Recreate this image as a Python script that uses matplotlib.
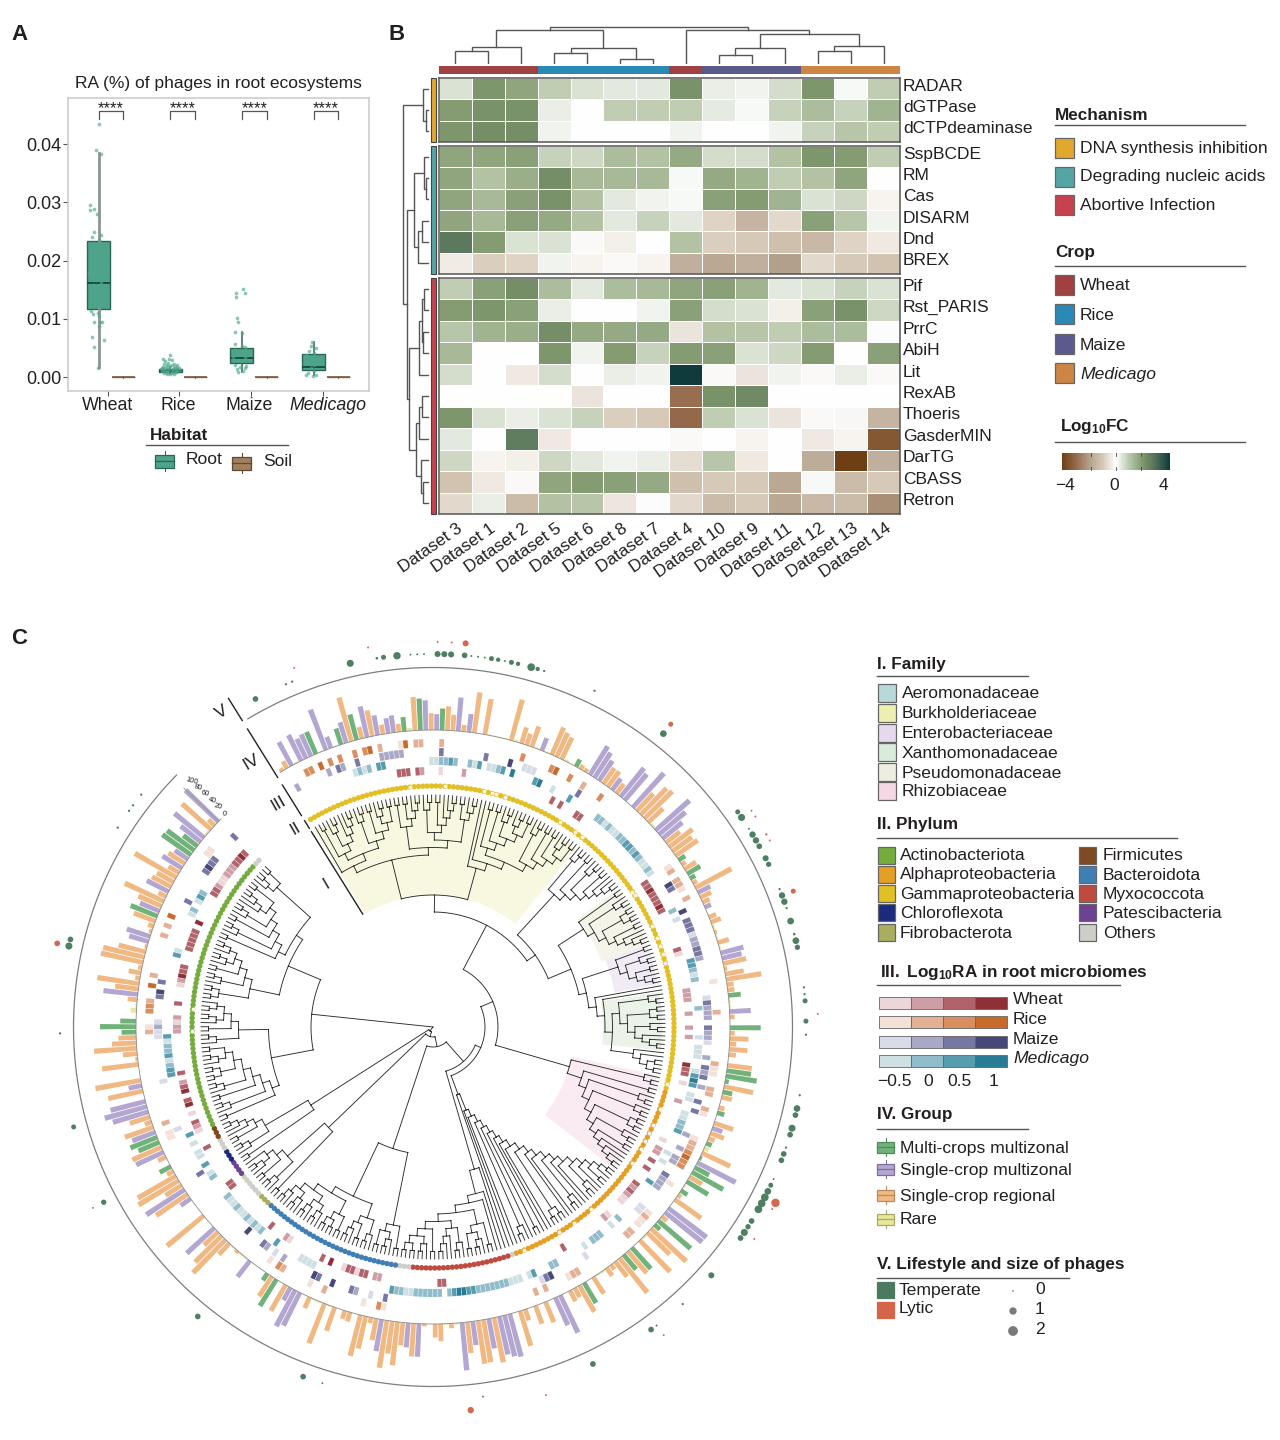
import numpy as np
import matplotlib
matplotlib.use("Agg")
import matplotlib.pyplot as plt
from matplotlib.colors import LinearSegmentedColormap
from matplotlib.patches import Rectangle

plt.rcParams['font.family'] = ['Liberation Sans', 'DejaVu Sans']
plt.rcParams['mathtext.fontset'] = 'custom'
plt.rcParams['mathtext.rm'] = 'Liberation Sans'
plt.rcParams['mathtext.bf'] = 'Liberation Sans:bold'
plt.rcParams['mathtext.it'] = 'Liberation Sans:italic'

W, H = 1280, 1440
INK = '#231f20'

# ---- panel A data
crops = ['Wheat', 'Rice', 'Maize', 'Medicago']
root_q1 = [0.0117, 0.0009, 0.0024, 0.0012]
root_med = [0.0162, 0.0011, 0.0033, 0.0018]
root_q3 = [0.0233, 0.0013, 0.0050, 0.0040]
root_lo = [0.0017, 0.0005, 0.0008, 0.0003]
root_hi = [0.0385, 0.0018, 0.0077, 0.0060]
soil_med = [0.0, 0.0, 0.0, 0.0]

wheat_y = [.0434, .0389, .0383, .0295, .0287, .0288, .0280, .0249, .0244, .0241, .0235, .0227, .0213,
           .0204, .0190, .0187, .0193, .0178, .0173, .0167, .0158, .0161, .0150, .0138, .0135, .0125,
           .0113, .0109, .0110, .0104, .0094, .0094, .0095, .0088, .0069, .0051, .0064, .0016]
wheat_jit = [.01, -.04, .04, -.12, -.12, -.06, -.02, -.06, .04, -.09, 0, -.01, .06, .03, -.1, -.08, .06,
             -.13, -.01, -.03, -.08, .04, .01, -.01, .04, .04, -.1, -.08, -.01, .01, -.06, .02, .05,
             .01, -.09, -.06, .08, -.01]
rice_y = [.0038, .0031, .0031, .0027, .0030, .0024, .0023, .0022, .0021, .0020, .0020, .0019, .0018, .0018,
          .0017, .0017, .0016, .0016, .0015, .0015, .0014, .0014, .0013, .0013, .0012, .0012, .0011, .0011,
          .0010, .0010, .0009, .0009, .0008, .0008, .0007, .0007, .0006, .0006, .0005]
rice_jit = [0, -.1, -.02, -.07, .02, -.03, .06, -.08, .03, -.05, .09, 0, -.1, .07, -.04, .1, -.12, .05, -.07,
            .12, -.02, .09, -.13, .04, -.09, .13, -.05, .08, -.11, .02, -.06, .1, -.03, .07, -.09, .03,
            -.05, .06, 0]
maize_y = [.0145, .0137, .0151, .0144, .0102, .0095, .0077, .0075, .0057, .0054, .0051, .0047, .0041, .0041,
           .0035, .0033, .0030, .0027, .0021, .0018, .0019, .0013, .0011, .0008, .0015]
maize_jit = [-.08, -.08, .01, .05, -.07, -.05, -.09, 0, -.09, 0, .04, -.1, -.03, .08, -.13, .04, -.06, -.01,
             -.1, -.02, .06, -.07, .01, -.06, .04]
medicago_y = [.0060, .0053, .0049, .0044, .0041, .0038, .0031, .0033, .0027, .0021, .0015, .0007, .0010,
              .0004, .0004, .0002]
medicago_jit = [-.02, -.04, .03, -.06, .01, -.1, -.04, .05, -.08, .01, -.04, -.08, .01, .03, -.1, -.01]

# ---- panel B data
datasets = ['Dataset 3', 'Dataset 1', 'Dataset 2', 'Dataset 5', 'Dataset 6', 'Dataset 8', 'Dataset 7',
            'Dataset 4', 'Dataset 10', 'Dataset 9', 'Dataset 11', 'Dataset 12', 'Dataset 13', 'Dataset 14']
dataset_crop = ['Wheat', 'Wheat', 'Wheat', 'Rice', 'Rice', 'Rice', 'Rice', 'Wheat', 'Maize', 'Maize',
                'Maize', 'Medicago', 'Medicago', 'Medicago']
synth_rows = ['RADAR', 'dGTPase', 'dCTPdeaminase']
synth_vals = [[.5, 2.0, 1.7, .9, .5, .4, .4, 2.1, .3, .2, .6, 2.0, .1, .9],
              [1.9, 2.1, 2.1, .3, 0, .9, .9, .9, .35, .1, .8, 1.2, .8, 1.4],
              [2.0, 2.2, 2.2, .2, 0, 0, 0, .2, 0, 0, .2, .8, 1.0, .9]]
degrade_rows = ['SspBCDE', 'RM', 'Cas', 'DISARM', 'Dnd', 'BREX']
degrade_vals = [[1.7, 1.7, 1.8, .8, .7, 1.2, 1.1, 1.6, .6, .6, 1.1, 2.0, 1.9, .9],
                [1.7, 1.1, 1.5, 2.2, 1.3, 1.3, 1.3, .1, 1.6, 1.4, .9, 1.1, 1.7, 0],
                [1.7, 1.3, 1.8, 2.1, 1.1, .4, .2, .1, 1.8, 1.9, 1.4, .5, .7, -.2],
                [1.7, 1.3, 1.8, 1.6, 1.1, .4, .8, .4, -.8, -1.5, -.7, 1.8, 1.0, .2],
                [2.7, 1.9, .5, .5, -.1, -.3, 0, 1.1, -.9, -1.0, -1.2, -1.4, -.8, -.4],
                [-.35, -.9, -.8, .2, -.2, -.1, -.2, -1.6, -1.8, -1.6, -2.0, -.7, -1, -1.1]]
abort_rows = ['Pif', 'Rst_PARIS', 'PrrC', 'AbiH', 'Lit', 'RexAB', 'Thoeris', 'GasderMIN', 'DarTG', 'CBASS', 'Retron']
abort_vals = [[.9, 1.8, 2.2, 1.2, .4, 1.2, 1.3, 1.7, 1.8, 1.4, .4, .5, .8, .5],
              [1.9, 2.0, 1.8, .3, 0, 0, .2, 1.8, .6, .5, -.3, 1.8, 2.1, .7],
              [1.0, 1.4, 1.5, 2.2, 1.6, 1.6, 1.6, -.5, 1.1, 1.0, .9, 1.2, 1.2, -.05],
              [1.3, 0, 0, 2.0, .2, 1.9, .8, 1.9, 1.8, .5, .7, 1.9, 0, 1.8],
              [.6, 0, -.4, .6, 0, .3, .2, 4, -.1, -.5, .2, -.1, .3, -.1],
              [0, 0, 0, 0, -.5, 0, 0, -2.9, 2.1, 2.3, 0, 0, 0, 0],
              [2.0, .5, .3, .5, .8, -.9, -1, -3, .9, .5, -.5, -.1, -.15, -1.5],
              [.4, 0, 2.6, -.4, 0, 0, 0, -.1, 0, -.2, 0, -.4, -.2, -3.4],
              [.7, -.2, -.3, .7, .4, .2, .3, -.6, 1, -.4, 0, -1.7, -4, -1.6],
              [-1.1, -.4, -.1, 1.7, 1.9, 1.8, 1.6, -1.2, -1, -1, -1.8, .1, -1.3, -1],
              [-.7, .3, -1.3, 1.1, 1, -.45, -.05, -.7, -1.3, -1, -1.8, -1.4, -1.3, -2.3]]
# (merge height, left, right); leaves are column or row numbers
col_tree = (36, (33, (15.7, (12.3, 0, 1), 2), (14.7, (9.7, 3, 4), (3.7, 5, 6))),
            (33, 7, (29, (14.7, (8, 8, 9), 10), (17, (12.3, 11, 12), 13))))
row_tree = (25.3, (4.7, 0, (2, 1, 2)),
            (20.7, (14, (4, 3, (2, 4, 5)), (9.7, (6.3, 6, 7), 8)),
             (18.7, (8.7, (6, (4, 9, 10), (5.3, 11, 12)), 13),
              (12, (9, (6.3, 14, 15), 16), (7.3, 17, (4.7, 18, 19))))))

mechanisms = ['DNA synthesis inhibition', 'Degrading nucleic acids', 'Abortive Infection']
mech_colors = ['#e0a92d', '#54a5a5', '#c7414f']
crop_colors = {'Wheat': '#a04040', 'Rice': '#2a8ab5', 'Maize': '#5b5a8c', 'Medicago': '#cc8544'}

# ---- panel C data: (tip, value) per bar group
green_bars = [(7, 50), (12, 35), (15, 55), (24, 30), (27, 66), (31, 45), (57, 17), (83, 16), (86, 31), (87, 12),
              (110, 26), (116, 64), (124, 51), (125, 65), (126, 8), (128, 20), (132, 15), (138, 12), (141, 5),
              (143, 34), (144, 74), (146, 52), (148, 16), (155, 89), (156, 15), (162, 59), (164, 40), (173, 49),
              (233, 65), (235, 17), (262, 26), (267, 47), (268, 60), (288, 30), (289, 75), (290, 33), (310, 60),
              (323, 73), (324, 70), (325, 37)]
purple_bars = [(2, 56), (4, 60), (5, 45), (6, 50), (9, 90), (10, 25), (13, 45), (17, 66), (19, 42), (21, 32), (22, 36),
               (28, 62), (30, 33), (34, 70), (36, 38), (50, 28), (60, 70), (61, 62), (62, 50), (65, 30), (67, 77),
               (68, 71), (70, 96), (76, 94), (77, 72), (78, 53), (90, 29), (93, 14), (102, 49), (103, 42), (113, 44),
               (135, 22), (142, 90), (152, 100), (153, 99), (178, 86), (179, 63), (188, 92), (189, 88), (190, 81),
               (192, 63), (195, 50), (197, 100), (205, 69), (207, 51), (212, 67), (228, 77), (229, 85), (230, 30),
               (239, 42), (248, 78), (255, 25), (257, 95), (265, 63), (269, 51), (273, 77), (274, 91), (275, 75),
               (278, 28), (295, 72), (305, 42), (306, 51), (311, 44), (315, 51), (320, 48), (322, 33), (326, 53),
               (327, 80), (331, 95)]
orange_bars = [(0, 7), (1, 17), (14, 95), (16, 25), (18, 55), (20, 20), (23, 17), (26, 70), (29, 35), (32, 50), (33, 33),
               (35, 14), (37, 85), (39, 75), (44, 88), (46, 35), (47, 25), (48, 45), (52, 62), (53, 55), (54, 50),
               (58, 10), (59, 8), (63, 40), (64, 40), (66, 25), (71, 50), (72, 77), (73, 81), (74, 42), (79, 37),
               (80, 61), (81, 50), (82, 56), (84, 10), (85, 28), (88, 10), (89, 85), (91, 25), (92, 16), (95, 16),
               (96, 22), (98, 5), (100, 24), (104, 49), (105, 6), (106, 39), (107, 74), (108, 14), (109, 14), (114, 10),
               (117, 10), (118, 39), (119, 14), (120, 38), (121, 15), (123, 51), (127, 62), (129, 22), (131, 12),
               (134, 42), (136, 30), (137, 14), (140, 65), (145, 30), (149, 8), (150, 67), (154, 14), (157, 100),
               (158, 65), (160, 91), (163, 60), (165, 92), (166, 40), (167, 12), (168, 20), (171, 41), (174, 63),
               (175, 22), (176, 25), (181, 46), (183, 40), (185, 24), (186, 76), (191, 95), (193, 90), (194, 91),
               (196, 65), (199, 10), (201, 36), (202, 28), (204, 5), (206, 69), (208, 48), (209, 91), (210, 68),
               (211, 100), (213, 46), (214, 12), (215, 69), (216, 88), (218, 20), (219, 18), (221, 52), (223, 89),
               (226, 25), (231, 62), (234, 49), (242, 6), (244, 32), (245, 97), (246, 78), (247, 40), (251, 99),
               (256, 79), (258, 40), (259, 98), (260, 92), (261, 15), (264, 18), (266, 66), (270, 63), (271, 15),
               (272, 44), (277, 74), (279, 96), (282, 76), (283, 5), (284, 30), (285, 89), (286, 51), (287, 37),
               (294, 20), (296, 49), (297, 88), (298, 10), (299, 26), (300, 8), (301, 90), (302, 88), (303, 58),
               (304, 5), (307, 6), (308, 12), (309, 48), (312, 53), (313, 90), (314, 18), (316, 45), (317, 40),
               (318, 100), (319, 26), (321, 41), (329, 81), (330, 18)]
rare_bars = [(3, 3), (8, 2), (11, 2), (25, 6), (40, 2), (41, 2), (42, 2), (43, 2), (45, 4), (49, 3), (51, 2), (55, 4),
             (75, 5), (97, 4), (99, 3), (101, 3), (111, 4), (112, 3), (139, 10), (147, 3), (159, 4), (169, 4), (170, 3),
             (198, 3), (200, 2), (222, 3), (224, 3), (225, 3), (240, 3), (241, 3), (243, 3), (292, 12), (293, 3), (328, 4)]

# (tip, Log10RA) per crop track
wheat_cells = [(22, .5), (23, .5), (24, .5), (26, .5), (27, 0), (31, -.5), (36, 0), (56, .5), (58, .5), (62, .5), (63, .5),
               (83, .5), (84, .5), (85, 1), (86, .5), (87, .5), (88, .5), (89, 1), (90, .5), (99, .5), (100, -.5),
               (108, 0), (109, 0), (110, 0), (113, 0), (116, 0), (118, 0), (124, 1), (125, .5), (126, .5), (128, -.5),
               (132, 0), (141, -.5), (143, 0), (144, 0), (146, .5), (148, .5), (152, .5), (153, 0), (154, .5), (155, 0),
               (156, -.5), (157, -.5), (161, -.5), (162, 0), (173, .5), (200, .5), (201, .5), (214, 0), (215, 0), (217, .5),
               (218, .5), (219, -.5), (220, .5), (221, .5), (222, -.5), (225, 1), (227, .5), (235, -.5), (236, 0), (240, .5),
               (252, .5), (253, .5), (262, .5), (266, -.5), (267, 0), (268, .5), (270, -.5), (272, 1), (273, .5), (275, 1),
               (276, .5), (277, 0), (279, .5), (288, 0), (289, 0), (290, -.5), (291, 0), (294, .5), (298, -.5), (299, 0),
               (300, 1), (301, .5), (302, .5), (306, .5), (307, .5), (308, .5), (309, .5), (310, .5), (312, 1), (319, .5),
               (320, .5), (321, 0), (322, -.5), (323, -.5), (324, 0), (325, 0), (326, 0), (327, .5), (328, .5), (329, 1),
               (330, .5)]
medicago_cells = [(13, -.5), (14, 0), (15, -.5), (16, 0), (18, .5), (19, .5), (29, -.5), (30, -.5), (31, 0), (32, 0), (33, .5),
                  (34, 0), (37, 0), (38, -.5), (39, .5), (41, -.5), (42, -.5), (43, 0), (44, .5), (46, 1), (51, .5), (52, 1),
                  (55, -.5), (59, .5), (66, 0), (67, 0), (68, -.5), (69, 0), (70, -.5), (71, -.5), (72, 0), (73, 0), (74, .5),
                  (75, .5), (76, 0), (77, .5), (78, 0), (79, -.5), (80, -.5), (81, 0), (82, -.5), (91, 0), (93, -.5), (102, .5),
                  (103, .5), (104, 0), (105, -.5), (106, 0), (112, 0), (118, -.5), (120, -.5), (121, -.5), (122, -.5),
                  (125, -.5), (126, .5), (127, 1), (128, .5), (130, -.5), (131, -.5), (134, -.5), (135, -.5), (136, 0),
                  (137, 0), (138, .5), (143, -.5), (145, -.5), (150, .5), (160, 0), (162, -.5), (165, 0), (166, 0), (167, 0),
                  (169, -.5), (176, 0), (177, 0), (181, .5), (182, -.5), (184, -.5), (185, -.5), (186, -.5), (187, 0), (188, 0),
                  (189, 0), (190, 0), (191, 0), (192, 0), (193, 0), (194, .5), (195, .5), (196, 1), (197, 1), (198, .5), (199, 0),
                  (201, 0), (202, 0), (203, 0), (204, 0), (205, 0), (206, 0), (207, -.5), (208, -.5), (209, 0), (210, 0),
                  (211, .5), (228, -.5), (229, -.5), (230, -.5), (231, -.5), (237, .5), (241, 0), (242, -.5), (243, 0), (244, -.5),
                  (245, 0), (246, -.5), (247, -.5), (248, 0), (249, -.5), (250, -.5), (251, 0), (256, 0), (257, -.5), (259, .5),
                  (261, -.5), (262, -.5), (264, -.5), (266, .5), (279, .5), (280, .5), (281, 0), (282, -.5), (283, .5), (284, 0),
                  (285, 0), (286, -.5), (287, .5), (304, .5), (305, -.5), (313, -.5), (314, 0), (316, -.5), (317, .5), (318, 0)]
maize_cells = [(1, 0), (8, 0), (10, .5), (11, 0), (14, .5), (19, 0), (20, 0), (21, 0), (22, 0), (23, 0), (31, .5), (40, .5), (45, 1),
               (48, -.5), (49, -.5), (50, -.5), (60, .5), (86, 1), (87, .5), (92, 1), (94, .5), (95, .5), (96, .5), (97, -.5),
               (98, 0), (99, 0), (100, .5), (101, .5), (102, 0), (110, -.5), (111, .5), (112, 0), (113, 0), (114, 0), (116, .5),
               (117, 0), (118, 0), (119, -.5), (122, 0), (124, .5), (125, 0), (126, .5), (128, 0), (131, .5), (133, .5), (138, 0),
               (141, 0), (143, 0), (144, 0), (147, .5), (148, 0), (149, 0), (150, 0), (155, -.5), (156, -.5), (170, -.5), (178, 1),
               (179, .5), (180, -.5), (212, .5), (215, -.5), (218, 0), (219, .5), (223, 1), (226, .5), (227, 1), (234, 0), (236, -.5),
               (238, 0), (239, .5), (243, 1), (258, .5), (268, -.5), (278, -.5), (288, -.5), (287, -.5), (289, 0), (290, -.5),
               (295, .5), (296, 1), (298, .5), (315, .5), (322, .5), (323, 1), (324, .5), (325, .5), (331, .5)]
rice_cells = [(4, .5), (5, .5), (7, 1), (9, .5), (11, .5), (14, .5), (16, .5), (17, 1), (19, 0), (23, -.5), (24, 1), (26, 0), (27, 0),
              (31, 0), (47, .5), (53, .5), (54, 1), (57, .5), (60, 0), (64, .5), (83, -.5), (84, 0), (86, 0), (87, 0), (88, -.5),
              (90, 0), (107, -.5), (113, 0), (123, 0), (124, -.5), (125, -.5), (128, 0), (129, 0), (132, 0), (133, -.5), (138, -.5),
              (139, 0), (140, 0), (141, .5), (142, 1), (143, .5), (144, .5), (148, -.5), (155, -.5), (156, 0), (157, -.5), (158, -.5),
              (160, 0), (161, 0), (173, 0), (174, 0), (175, -.5), (180, 0), (182, 0), (212, -.5), (213, .5), (216, -.5), (224, 0),
              (227, -.5), (233, 0), (234, .5), (236, -.5), (267, -.5), (268, -.5), (270, 0), (288, 0), (289, -.5), (292, .5), (293, .5),
              (294, 0), (297, 1), (299, 0), (307, 0), (309, 0), (311, 1), (325, -.5), (326, -.5)]
level_list = [-.5, 0, .5, 1]
wheat_shades = ['#ecd6da', '#cf9da5', '#b0636b', '#8f2f36']
rice_shades = ['#f3e0d6', '#e3b095', '#d88f60', '#c96a2d']
maize_shades = ['#d9dbe8', '#a9a9c7', '#7777a3', '#474879']
medicago_shades = ['#cfe0e4', '#90bccb', '#589cb0', '#2a7b96']

# (tip, size) of phages
temperate = [(2, 1.2), (7, .2), (8, .2), (17, 1.6), (21, .3), (22, 1), (24, 1.7), (26, .1), (27, .1), (28, .1), (30, 1.3), (31, 1.3),
             (32, 1.3), (34, 1.2), (35, .1), (36, .1), (37, .1), (38, 1), (39, .8), (40, .1), (41, 1), (42, .8), (44, 1.8), (45, .8),
             (46, .2), (54, .2), (66, 1.5), (82, 1.0), (83, 1.6), (85, .1), (86, 1.4), (87, 1.4), (88, 1.2), (90, 1.3), (91, 1.1),
             (95, .2), (96, 1.4), (97, 1.4), (98, .2), (100, 1.5), (102, .3), (103, 1.5), (104, 1.1), (110, .2), (111, .2), (112, 1),
             (115, 1), (117, .2), (126, .2), (128, 1.5), (129, 1.2), (131, 1.6), (132, 1.2), (134, .2), (135, 1.2), (136, 1.2), (139, .1),
             (140, 1), (141, 1.5), (142, 1.8), (143, 1.8), (144, 1.8), (146, 1.2), (147, 1.1), (148, 1.6), (149, 1.2), (156, 1.3),
             (162, .2), (167, .1), (168, 1.2), (178, 1.2), (195, .1), (219, .1), (222, 1.2), (240, 1.2), (262, 1.1), (274, 1), (288, .2),
             (301, 1.6), (302, 1.2), (320, .2), (323, .2), (324, .2), (326, .2)]
lytic = [(9, .1), (20, .1), (30, .1), (32, .1), (34, 1.3), (66, 1), (83, .1), (84, .1), (87, .2), (88, .1), (96, 1), (114, .1), (142, 2),
         (143, .1), (148, .1), (167, .1), (186, .1), (197, 1.4), (262, .1), (301, 1.2)]

phylum_colors = {'Actinobacteriota': '#76ab3e', 'Alphaproteobacteria': '#e49f25', 'Gammaproteobacteria': '#e3bf26',
                 'Chloroflexota': '#1c2a7d', 'Fibrobacterota': '#a9ae5f', 'Firmicutes': '#7f4a21',
                 'Bacteroidota': '#3f7fb5', 'Myxococcota': '#c14a3f', 'Patescibacteria': '#6f4191', 'Others': '#cfcfca'}
# phylum, first tip, last tip
phylum_runs = [('Gammaproteobacteria', 0, 130), ('Alphaproteobacteria', 131, 183), ('Others', 184, 184),
               ('Myxococcota', 185, 207), ('Others', 208, 210), ('Bacteroidota', 211, 243), ('Fibrobacterota', 244, 246),
               ('Others', 247, 252), ('Patescibacteria', 253, 256), ('Chloroflexota', 257, 259), ('Others', 260, 262),
               ('Firmicutes', 263, 265), ('Actinobacteriota', 266, 329), ('Others', 330, 331)]
pale_tips = [24, 32, 41, 43, 44, 46, 60, 64, 66, 83, 84, 92, 95, 97, 99, 101, 129, 135, 139, 141, 143, 145, 149, 163, 168, 172, 181,
             288, 293]
family_colors = {'Burkholderiaceae': '#f7f8df', 'Pseudomonadaceae': '#f4f4e8', 'Enterobacteriaceae': '#f1ebf5',
                 'Xanthomonadaceae': '#ebf3e9', 'Rhizobiaceae': '#f9ebf1'}
# family, first tip, last tip, inner radius
family_runs = [('Burkholderiaceae', 0, 66, 132), ('Pseudomonadaceae', 81, 95, 181), ('Enterobacteriaceae', 96, 105, 185),
               ('Xanthomonadaceae', 108, 121, 170), ('Rhizobiaceae', 128, 152, 142)]

# ---- tree shapes, '.' is a tip
p = "(..)"
t = "(.(..))"
q = "((..)(..))"
l4 = "(.(.(..)))"
l5 = "(.(.(.(..))))"


def lad(*parts):
    s = parts[-1]
    for part in reversed(parts[:-1]):
        s = "(" + part + s + ")"
    return s


def rlad(*parts):
    s = parts[0]
    for part in parts[1:]:
        s = "(" + s + part + ")"
    return s


def parse(s):
    stack = [[]]
    for ch in s:
        if ch == '(':
            stack.append([])
        elif ch == ')':
            node = stack.pop()
            stack[-1].append(node)
        elif ch == '.':
            stack[-1].append(None)
    return stack[0][0]


burk = "(" + "(" + lad('.', lad(p, t, l4), lad(t, p, t, p)) + lad(lad(p, p, t), lad(t, p, l4), lad(p, t)) + ")" \
       + lad('.', '.', lad(p, p, t, t, p), lad(t, p, p, t, p)) + ")"
gam2 = lad(lad(t, p, t, p, l4), lad(p, t, q, p, l4), lad(p, t, p, t), '.', '.', lad(t, q, t, l4), lad('.', '.', q))
rhizo = lad(t, p, t, t, q, t, p, l5)
alpha_comb = rlad('.', '.', '.', p, '.', t, '.', '.', t, '.', '.', q, '.', '.', '.', p, '.', t, '.', '.', '.')
myxo = lad('.', '.', '.', lad(p, t, p), lad(t, '.', '.', p), lad(p, t, q))
bacter = lad(lad(p, t, p), lad(t, p, t), lad(p, p, p), lad(t, t), lad(t, t))
low_a = lad(p, t, p, t, '.')
low_b = lad(p, t, p, l4)
actino = "(" + "(" + lad(p, t, p, t, q, t, p) + lad(t, p, t, p, '.') + ")" \
         + "(" + lad(q, t, p, t, t) + "(" + lad(p, t, p, t, l4, '.', '.') + lad(t, p) + "))" + ")"

# backbone: (radius, [children]); a clade keeps its own root radius
gamma_node = (115, [(132, parse(burk)), (125, parse(gam2))])
mid_node = (65, [gamma_node, (142, parse(rhizo))])
alpha_node = (52, [mid_node, (72, parse(alpha_comb))])
myxo_node = (46, [alpha_node, (148, parse(myxo))])
bacter_node = (20, [myxo_node, (128, parse(bacter))])
low_node = (10, [bacter_node, (145, parse(low_a))])
tree_spec = (0, [(5, [low_node, (145, parse(low_b))]), (122, parse(actino))])

R_TIP = 232.0
STEP = 7.5
FIRST_ANGLE = -30.5
ANGLE_STEP = 1.04


def tip_theta(tip):
    return np.deg2rad(FIRST_ANGLE + ANGLE_STEP * np.asarray(tip, dtype=float))


def height(node):
    if node is None:
        return 0
    kids = node[1] if isinstance(node, tuple) else node
    return 1 + max(height(k) for k in kids)


def px_axes(x0, y0, x1, y1, **kw):
    return fig.add_axes([x0 / W, 1 - y1 / H, (x1 - x0) / W, (y1 - y0) / H], **kw)


fig = plt.figure(figsize=(12.8, 14.4), dpi=100)

# ======== A
ax = px_axes(68, 98, 369, 391)
centers = np.arange(1, 5)
off = 0.174
root_stats = [dict(med=root_med[i], q1=root_q1[i], q3=root_q3[i], whislo=root_lo[i], whishi=root_hi[i], fliers=[])
              for i in range(4)]
soil_stats = [dict(med=soil_med[i], q1=-0.00005, q3=0.00005, whislo=-0.0001, whishi=0.00015, fliers=[]) for i in range(4)]
bp = ax.bxp(root_stats, positions=centers - off, widths=0.32, showcaps=False, patch_artist=True, manage_ticks=False,
            boxprops=dict(facecolor='#4ea48a', edgecolor='#2b6655', lw=1),
            medianprops=dict(color='#174f40', lw=1.4), whiskerprops=dict(color='#2b6655', lw=1.1), zorder=2)
# the wheat whisker is drawn thick and grey in the original
for line in bp['whiskers'][:2]:
    line.set_color('#8c9591')
    line.set_linewidth(2)
ax.bxp(soil_stats, positions=centers + off, widths=0.32, showcaps=False, patch_artist=True, manage_ticks=False,
       boxprops=dict(facecolor='#a3805c', edgecolor='#96785a', lw=1),
       medianprops=dict(color='#7b5a3c', lw=1.2), whiskerprops=dict(color='#96785a', lw=.8), zorder=2)
for k, ys, js in zip(centers, [wheat_y, rice_y, maize_y, medicago_y], [wheat_jit, rice_jit, maize_jit, medicago_jit]):
    ax.scatter(k - off + np.array(js), ys, s=7, color='#4fa78e', alpha=.65, lw=0, zorder=3)
for k in centers:
    ax.plot([k - off, k - off, k + off, k + off], [.0443, .0457, .0457, .0443], color='#555555', lw=.9)
    ax.text(k, .0460, '****', ha='center', va='center', fontsize=12, color=INK)
ax.set_xlim(.4, 4.6)
ax.set_ylim(-.0024, .0479)
ax.set_yticks([0, .01, .02, .03, .04], ['0.00', '0.01', '0.02', '0.03', '0.04'], fontsize=13, color=INK)
ax.set_xticks(centers - .045, [])
ax.tick_params(axis='both', length=3.5, width=.8, color='#555555', pad=1.5)
for s in ax.spines.values():
    s.set_color('#c9c9c9')
    s.set_linewidth(1.1)
ax.set_title('RA (%) of phages in root ecosystems', fontsize=12.5, color=INK, pad=7, x=.5)


# ======== B
fc_cmap = LinearSegmentedColormap.from_list('fc', [(0, '#6f3f14'), (.125, '#94694a'), (.25, '#b3a08b'), (.375, '#d6c8b6'),
                                                   (.5, '#ffffff'), (.625, '#b8c7aa'), (.75, '#7f976c'), (.875, '#4e6d58'),
                                                   (1, '#0f3b3d')])
X0, X1 = 438.7, 900
blocks = [(synth_rows, synth_vals, 78, 142), (degrade_rows, degrade_vals, 146, 274), (abort_rows, abort_vals, 278, 514)]
row_center = []
row_names = []
for rows, vals, y0, y1 in blocks:
    ax = px_axes(X0, y0, X1, y1)
    ax.pcolormesh(np.arange(15), np.arange(len(rows) + 1), np.array(vals), cmap=fc_cmap, vmin=-4, vmax=4,
                  edgecolors='white', linewidth=.6)
    ax.set_ylim(len(rows), 0)
    ax.set_xlim(0, 14)
    ax.set_yticks([])
    ax.set_xticks([])
    for s in ax.spines.values():
        s.set_color('#555555')
        s.set_linewidth(1.1)
    row_center += list(y0 + (np.arange(len(rows)) + .5) * (y1 - y0) / len(rows))
    row_names += rows
ax.set_xticks(np.arange(14) + .55, datasets, rotation=35, ha='right', va='top', rotation_mode='anchor', fontsize=12.3, color=INK)
ax.tick_params(axis='x', length=0, pad=5)

ax = px_axes(X0, 66, X1, 74)
ax.bar(np.arange(14) + .5, 1, width=1, color=[crop_colors[c] for c in dataset_crop])
ax.set_xlim(0, 14)
ax.set_ylim(0, 1)
ax.axis('off')

ax = px_axes(X0, 25, X1, 64)
ax.set_xlim(0, 14)
ax.set_ylim(-1, 38)
ax.axis('off')


def draw_col(node):
    if not isinstance(node, tuple):
        return node + .5, -1
    h, a, b = node
    xa, ha = draw_col(a)
    xb, hb = draw_col(b)
    ax.plot([xa, xa, xb, xb], [ha, h, h, hb], color='#555555', lw=1, solid_joinstyle='miter')
    return (xa + xb) / 2, h


draw_col(col_tree)

# pixel overlay for row tree, legends and notes
ov = fig.add_axes([0, 0, 1, 1], zorder=20)
ov.set_xlim(0, W)
ov.set_ylim(H, 0)
ov.axis('off')
ov.patch.set_alpha(0)

for name, y in zip(row_names, row_center):
    ov.text(903, y - 2.5, name, fontsize=12.5, va='center', color=INK)


def draw_row(node):
    if not isinstance(node, tuple):
        return row_center[node], 0
    h, a, b = node
    ya, ha = draw_row(a)
    yb, hb = draw_row(b)
    ov.plot([428 - ha, 428 - h, 428 - h, 428 - hb], [ya, ya, yb, yb], color='#555555', lw=1, solid_joinstyle='miter')
    return (ya + yb) / 2, h


draw_row(row_tree)
for color, (_, _, y0, y1) in zip(mech_colors, blocks):
    ov.add_patch(Rectangle((431, y0), 5, y1 - y0, fc=color, ec='#444444', lw=.8))


def label(x, y, s, size=12.6, **kw):
    ov.text(x, y + 1, s, fontsize=size, va='center', color=INK, **kw)


def heading(x, y, s, rule_y, x0, x1):
    label(x, y, s, size=12.3, fontweight='bold')
    ov.plot([x0, x1], [rule_y, rule_y], color='#555555', lw=1)


def key(x0, x1, y, h, color, ec='#666666', whisker=False):
    if whisker:
        ov.plot([(x0 + x1) / 2] * 2, [y - h / 2 - 3.5, y + h / 2 + 3.5], color=ec, lw=.8)
    ov.add_patch(Rectangle((x0, y - h / 2), x1 - x0, h, fc=color, ec=ec, lw=.9, zorder=3))
    if whisker:
        ov.plot([x0, x1], [y, y], color=ec, lw=.9, zorder=4)


label(11, 34, 'A', size=16, fontweight='bold')
label(389, 33, 'B', size=16, fontweight='bold')
label(11, 637, 'C', size=16, fontweight='bold')

for name, x in zip(crops, [108, 178, 249, 328]):
    ov.text(x, 405, name, ha='center', va='center', fontsize=12.8, color=INK, style='italic' if name == 'Medicago' else 'normal')

# legend of A
heading(150, 434, 'Habitat', 445, 146, 288)
key(155, 174, 461, 13, '#4ea48a', ec='#2b6655', whisker=True)
key(232, 251, 463, 13, '#a3805c', ec='#5a4a3a', whisker=True)
label(186, 459, 'Root', size=12.6)
label(263, 461, 'Soil', size=12.6)

# legends of B
heading(1055, 114, 'Mechanism', 125, 1055, 1245)
for name, color, y in zip(mechanisms, mech_colors, [148, 177, 205]):
    key(1055, 1074, y, 20, color)
    label(1080, y - 1, name, size=12.6)
heading(1055, 252, 'Crop', 266, 1055, 1245)
for name, y in zip(crops, [285, 314, 344, 373]):
    key(1055, 1074, y, 20, crop_colors[name])
    label(1080, y, name, size=12.6, style='italic' if name == 'Medicago' else 'normal')
heading(1060, 426, r'$\mathbf{Log_{10}FC}$', 442, 1055, 1245)
cax = px_axes(1062, 453, 1170, 470)
cax.pcolormesh(np.linspace(-4, 4, 201), [0, 1], np.linspace(-4, 4, 200)[None, :], cmap=fc_cmap, vmin=-4, vmax=4)
cax.axis('off')
for x in [1091, 1116, 1141]:
    ov.plot([x, x], [453, 456], color='#444444', lw=.6)
    ov.plot([x, x], [467, 470], color='#444444', lw=.6)
for s, x in zip(['\u22124', '0', '4'], [1065, 1114, 1163]):
    ov.text(x, 485, s, ha='center', va='center', fontsize=12.5, color=INK)

# ======== C
pax = fig.add_axes([33 / W, 1 - 1427 / H, 800 / W, 800 / H], projection='polar')
pax.set_theta_zero_location('N')
pax.set_theta_direction(-1)
pax.set_rlim(0, 400)
pax.axis('off')
pax.patch.set_alpha(0)

for name, a, b, r0 in family_runs:
    th0, th1 = tip_theta(a - .5), tip_theta(b + .5)
    pax.bar((th0 + th1) / 2, R_TIP - r0 - 3, width=th1 - th0, bottom=r0, color=family_colors[name], lw=0, zorder=1)

tree_th, tree_r = [], []
tip_no = 0


def draw_tree(node, parent_r):
    global tip_no
    if node is None:
        tip_no += 1
        return tip_no - 1, R_TIP
    if isinstance(node, tuple):
        r, kids = node
    else:
        r = max(parent_r + 3, R_TIP - STEP * height(node))
        kids = node
    res = [draw_tree(k, r) for k in kids]
    arc = tip_theta(np.linspace(res[0][0], res[-1][0], 40))
    tree_th.extend(list(arc) + [np.nan])
    tree_r.extend([r] * 40 + [np.nan])
    for tip, child_r in res:
        tree_th.extend([float(tip_theta(tip)), float(tip_theta(tip)), np.nan])
        tree_r.extend([r, child_r, np.nan])
    return (res[0][0] + res[-1][0]) / 2, r


draw_tree(tree_spec, 0)
pax.plot(tree_th, tree_r, color='#2b2b2b', lw=.65, zorder=2)

# ring II
ring_colors = [None] * 332
for name, a, b in phylum_runs:
    for i in range(a, b + 1):
        ring_colors[i] = phylum_colors[name]
tips = np.arange(332)
pax.scatter(tip_theta(tips), np.full(332, 241), s=15, c=ring_colors, lw=0, zorder=3)
pax.scatter(tip_theta(pale_tips), np.full(len(pale_tips), 241), s=8, c='#fbf7e2', lw=0, zorder=4)

# ring III
for cells, shades, r in [(wheat_cells, wheat_shades, 256), (medicago_cells, medicago_shades, 266),
                         (maize_cells, maize_shades, 275), (rice_cells, rice_shades, 284)]:
    cell_tips = [c[0] for c in cells]
    cell_cols = [shades[level_list.index(c[1])] for c in cells]
    pax.bar(tip_theta(cell_tips), 8, width=np.deg2rad(.94), bottom=r - 4, color=cell_cols, lw=0, zorder=3)

# ring IV
for bars, color in [(green_bars, '#71b27a'), (purple_bars, '#b3a6d0'), (orange_bars, '#f0b983'), (rare_bars, '#e8e79b')]:
    pax.bar(tip_theta([b[0] for b in bars]), [b[1] * .48 for b in bars], width=np.deg2rad(.9), bottom=297, color=color, lw=0, zorder=3)
th = np.deg2rad(np.linspace(-31, 314.5, 500))
pax.plot(th, np.full(500, 297), color='#8a8a8a', lw=.6, zorder=4)
pax.plot(th, np.full(500, 359.5), color='#7d7d7d', lw=.9, zorder=4)

# ring V
for pts, color, r in [(temperate, '#4f7f62', 373), (lytic, '#d4684f', 385)]:
    sizes = np.array([s[1] for s in pts])
    pax.scatter(tip_theta([s[0] for s in pts]), np.full(len(pts), r), s=((1.6 + 3.4 * sizes) * .72) ** 2, color=color, lw=0, zorder=4)

# ring marks
for r0, r1 in [(361, 387), (294, 351), (249, 285), (234, 243), (133, 230)]:
    pax.plot(np.deg2rad([-31.9, -31.9]), [r0, r1], color='#222222', lw=1, zorder=5)
pax.plot(np.deg2rad([-46.2, -46.2]), [297, 345], color='#999999', lw=.7, zorder=5)
for s, x, y in zip(['V', 'IV', 'III', 'II', 'I'], [222, 251, 278, 295, 326], [712, 762, 803, 829, 884]):
    ov.text(x, y, s, rotation=30, ha='center', va='center', fontsize=12.5, color=INK)
for s, x, y in zip(['100', '80', '60', '40', '20', '0'], [192, 198, 205, 212, 218, 224], [781, 788, 794, 801, 807, 814]):
    ov.text(x, y, s, rotation=-15, ha='center', va='center', fontsize=5.5, color=INK)

# legends of C
heading(877, 663, 'I. Family', 676, 877, 1028)
for name, color, y in zip(['Aeromonadaceae', 'Burkholderiaceae', 'Enterobacteriaceae', 'Xanthomonadaceae', 'Pseudomonadaceae', 'Rhizobiaceae'],
                          ['#b7dad8', '#edefb0', '#e6d9ee', '#d9ebdc', '#eeede0', '#f4d9e5'], [693, 713, 733, 752, 772, 791]):
    key(878, 896, y, 18, color)
    label(902, y, name)
heading(877, 823, 'II. Phylum', 838, 877, 1177)
for name, y in zip(['Actinobacteriota', 'Alphaproteobacteria', 'Gammaproteobacteria', 'Chloroflexota', 'Fibrobacterota'], [855, 874, 893, 912, 932]):
    key(878, 895, y, 17, phylum_colors[name])
    label(900, y, name)
for name, y in zip(['Firmicutes', 'Bacteroidota', 'Myxococcota', 'Patescibacteria', 'Others'], [855, 874, 893, 912, 932]):
    key(1079, 1096, y, 17, phylum_colors[name])
    label(1103, y, name)
heading(880, 971, r'$\mathbf{III.\ Log_{10}RA\ in\ root\ microbiomes}$', 985, 877, 1120)
for name, shades, y, ty in zip(crops, [wheat_shades, rice_shades, maize_shades, medicago_shades], [1003, 1022, 1042, 1061], [1000, 1019, 1039, 1058]):
    for j, c in enumerate(shades):
        ov.add_patch(Rectangle((879 + j * 32, y - 6), 32, 12, fc=c, ec='#666666', lw=.6))
    label(1013, ty - 1, name, style='italic' if name == 'Medicago' else 'normal')
for s, x in zip(['\u22120.5', '0', '0.5', '1'], [894, 928, 959, 993]):
    ov.text(x, 1081, s, ha='center', va='center', fontsize=12.6, color=INK)
heading(877, 1114, 'IV. Group', 1129, 877, 1028)
for name, color, ec, y in zip(['Multi-crops multizonal', 'Single-crop multizonal', 'Single-crop regional', 'Rare'],
                              ['#71b27a', '#b3a6d0', '#f0b983', '#e8e79b'], ['#4f8a5a', '#7d6f9c', '#b98a5d', '#a8a86a'], [1147, 1169, 1195, 1219]):
    key(877, 894, y, 11, color, ec=ec, whisker=True)
    label(900, y, name)
heading(877, 1263, 'V. Lifestyle and size of phages', 1278, 877, 1069)
key(877, 894, 1290, 16, '#4a7a5f', ec='#4a7a5f')
key(877, 894, 1310, 16, '#d4654a', ec='#d4654a')
label(899, 1289, 'Temperate')
label(899, 1308, 'Lytic')
ov.scatter([1013, 1013, 1013], [1291, 1311, 1331], s=[1.5, 28, 50], color='#7a7a7a', lw=0)
for s, y in zip(['0', '1', '2'], [1290, 1310, 1330]):
    ov.text(1040, y, s, ha='center', va='center', fontsize=12.6, color=INK)

fig.savefig('out.png', dpi=100)
